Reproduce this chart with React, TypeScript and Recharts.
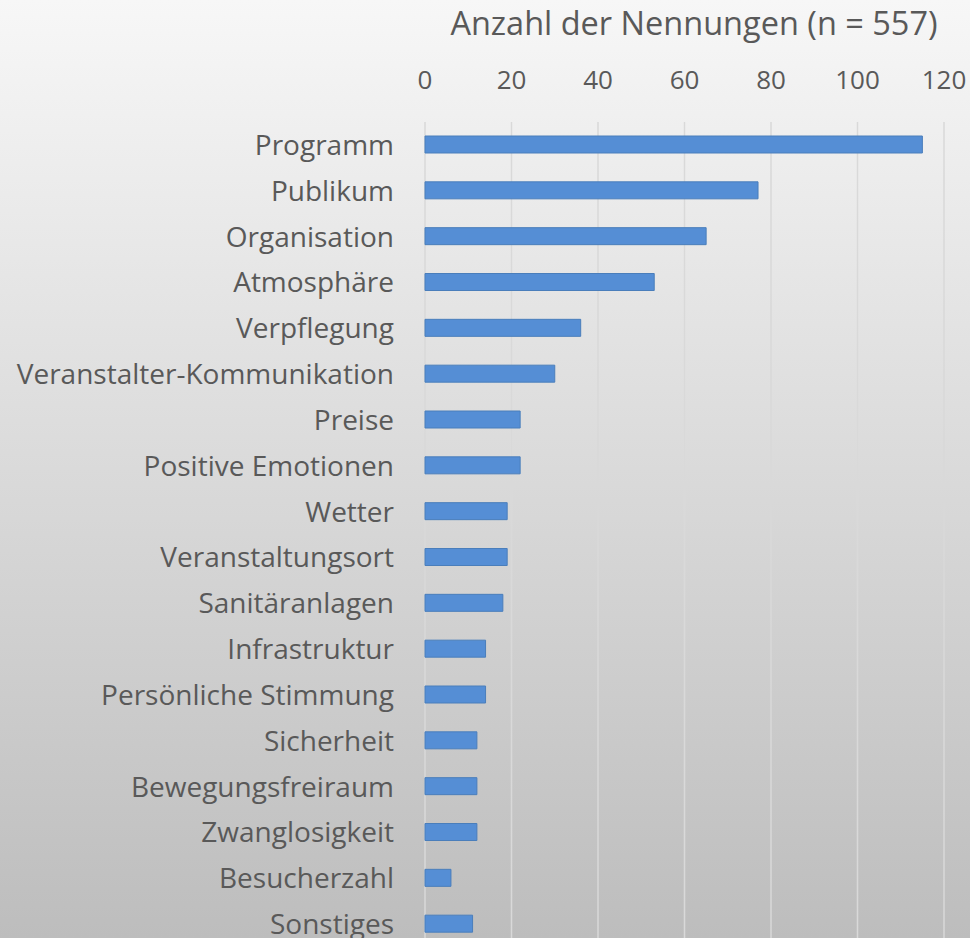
import { BarChart, Bar, XAxis, YAxis, CartesianGrid } from "recharts";

const categories = [
  "Programm",
  "Publikum",
  "Organisation",
  "Atmosphäre",
  "Verpflegung",
  "Veranstalter-Kommunikation",
  "Preise",
  "Positive Emotionen",
  "Wetter",
  "Veranstaltungsort",
  "Sanitäranlagen",
  "Infrastruktur",
  "Persönliche Stimmung",
  "Sicherheit",
  "Bewegungsfreiraum",
  "Zwanglosigkeit",
  "Besucherzahl",
  "Sonstiges",
];
const nennungen = [115, 77, 65, 53, 36, 30, 22, 22, 19, 19, 18, 14, 14, 12, 12, 12, 6, 11];
const xTicks = [0, 20, 40, 60, 80, 100, 120];
const title = "Anzahl der Nennungen (n = 557)";

const FONT = "'Open Sans', sans-serif";
const TEXT = "#595959";

const data = categories.map((name, i) => ({ name, value: nennungen[i] }));

export default function App() {
  return (
    <div
      style={{
        position: "absolute",
        left: 0,
        top: 0,
        width: 970,
        height: 938,
        overflow: "hidden",
        background: "linear-gradient(to bottom, #f7f7f7 0%, #bdbdbd 100%)",
        fontFamily: FONT,
      }}
    >
      <div
        style={{
          position: "absolute",
          left: 444,
          top: 3,
          width: 500,
          textAlign: "center",
          fontSize: 32.5,
          lineHeight: "40px",
          color: TEXT,
          whiteSpace: "nowrap",
        }}
      >
        {title}
      </div>
      <BarChart
        width={970}
        height={947}
        data={data}
        layout="vertical"
        margin={{ top: 72, right: 26, bottom: 0, left: 0 }}
        barCategoryGap={0}
      >
        <CartesianGrid horizontal={false} stroke="#d9d9d9" strokeWidth={1.5} />
        <XAxis
          type="number"
          orientation="top"
          domain={[0, 120]}
          ticks={xTicks}
          height={50}
          axisLine={false}
          tickLine={false}
          tickSize={0}
          tickMargin={33}
          interval={0}
          tick={{ fontSize: 26, fill: TEXT, fontFamily: FONT }}
        />
        <YAxis
          type="category"
          dataKey="name"
          width={425}
          axisLine={false}
          tickLine={false}
          tickSize={0}
          tickMargin={31}
          interval={0}
          tick={{ fontSize: 28, fill: TEXT, fontFamily: FONT }}
        />
        <Bar
          dataKey="value"
          barSize={17}
          fill="#558ED5"
          stroke="#4A7EBB"
          strokeWidth={1}
          isAnimationActive={false}
        />
      </BarChart>
    </div>
  );
}
